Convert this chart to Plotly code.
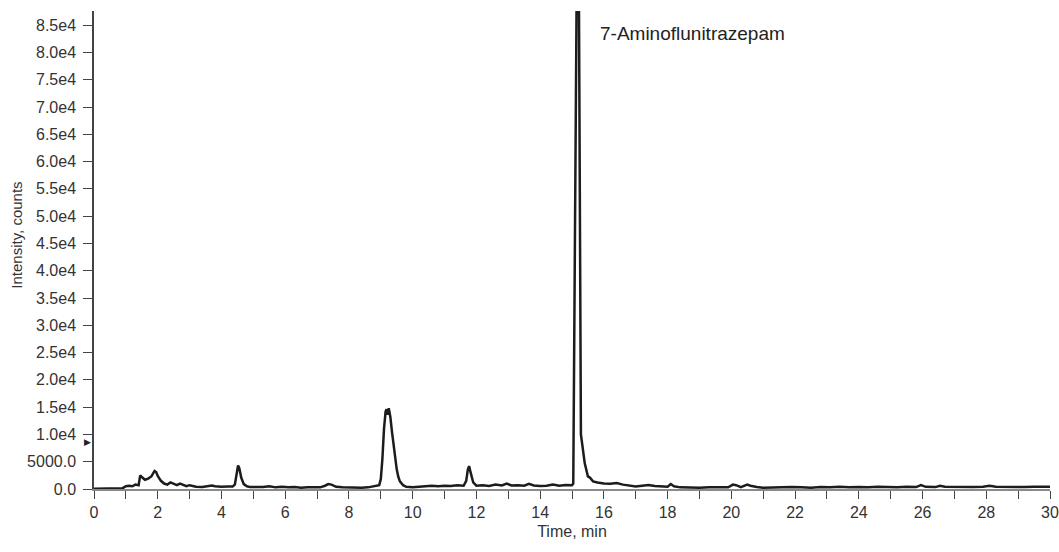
import plotly.graph_objects as go

# Chromatogram data (time in min, intensity in counts)
time_min = [
    0.0, 0.3, 0.6, 0.9, 1.0, 1.1, 1.2, 1.3, 1.4, 1.45, 1.5, 1.6, 1.7, 1.8, 1.9, 1.95,
    2.0, 2.1, 2.2, 2.3, 2.4, 2.5, 2.6, 2.7, 2.8, 2.9, 3.0, 3.2, 3.4, 3.6, 3.7, 3.8,
    4.0, 4.2, 4.35, 4.42, 4.47, 4.52, 4.56, 4.62, 4.7, 4.8, 4.9, 5.1, 5.3, 5.5, 5.7,
    5.9, 6.1, 6.3, 6.5, 6.7, 6.9, 7.1, 7.25, 7.35, 7.45, 7.6, 7.8, 8.0, 8.2, 8.4, 8.6,
    8.8, 8.95, 9.0, 9.05, 9.1, 9.15, 9.18, 9.22, 9.25, 9.3, 9.35, 9.4, 9.45, 9.5, 9.55,
    9.6, 9.7, 9.8, 10.0, 10.2, 10.4, 10.6, 10.8, 11.0, 11.2, 11.4, 11.6, 11.68, 11.73,
    11.77, 11.82, 11.9, 12.0, 12.2, 12.4, 12.6, 12.8, 12.95, 13.1, 13.3, 13.5, 13.65,
    13.8, 14.0, 14.2, 14.4, 14.6, 14.8, 15.0, 15.04, 15.09, 15.18, 15.22, 15.25, 15.28,
    15.4, 15.5, 15.56, 15.66, 15.8, 15.9, 16.0, 16.2, 16.4, 16.6, 16.8, 17.0, 17.2,
    17.4, 17.6, 17.8, 18.0, 18.1, 18.2, 18.4, 18.6, 18.8, 19.0, 19.3, 19.6, 19.9,
    20.05, 20.15, 20.3, 20.5, 20.6, 20.8, 21.0, 21.3, 21.6, 21.9, 22.2, 22.5, 22.8,
    23.1, 23.4, 23.7, 24.0, 24.3, 24.6, 24.9, 25.2, 25.5, 25.8, 25.95, 26.1, 26.4,
    26.55, 26.7, 27.0, 27.3, 27.6, 27.9, 28.1, 28.3, 28.6, 28.9, 29.2, 29.5, 29.8, 30.0,
]
intensity = [
    50, 60, 80, 150, 500, 600, 500, 800, 700, 2500, 2200, 1700, 1900, 2300, 3300, 3100,
    2400, 1500, 1000, 800, 1200, 900, 700, 1000, 800, 500, 700, 400, 350, 500, 650, 500,
    400, 450, 450, 800, 2600, 4300, 3800, 2100, 900, 500, 350, 300, 350, 500, 300,
    400, 300, 350, 250, 300, 250, 300, 600, 900, 800, 400, 300, 250, 300, 250, 300,
    450, 700, 1800, 5500, 11000, 14200, 14600, 13600, 14800, 13200, 10500, 7800, 5600, 3600, 2200,
    1400, 700, 400, 300, 400, 500, 600, 500, 600, 550, 700, 600, 1500, 3500,
    4200, 3000, 1200, 600, 700, 550, 800, 650, 1000, 650, 700, 600, 950,
    650, 550, 600, 800, 600, 750, 700, 1000, 44000, 120000, 87000, 48000, 10000,
    4700, 2300, 2100, 1400, 1200, 1100, 1000, 950, 1100, 800, 600, 450, 600,
    750, 550, 500, 400, 900, 500, 300, 250, 300, 250, 300, 250, 300,
    800, 700, 350, 800, 600, 350, 250, 300, 250, 350, 300, 250, 350,
    300, 400, 300, 350, 300, 400, 350, 300, 400, 350, 700, 400, 350,
    600, 400, 350, 400, 350, 400, 600, 400, 350, 400, 350, 400, 350, 400,
]

y_tickvals = [0, 5000, 10000, 15000, 20000, 25000, 30000, 35000, 40000, 45000,
              50000, 55000, 60000, 65000, 70000, 75000, 80000, 85000]
y_ticktext = ["0.0", "5000.0", "1.0e4", "1.5e4", "2.0e4", "2.5e4", "3.0e4", "3.5e4",
              "4.0e4", "4.5e4", "5.0e4", "5.5e4", "6.0e4", "6.5e4", "7.0e4", "7.5e4",
              "8.0e4", "8.5e4"]
x_tickvals = [0, 2, 4, 6, 8, 10, 12, 14, 16, 18, 20, 22, 24, 26, 28, 30]

peak_label = "7-Aminoflunitrazepam"
peak_label_pos = (15.83, 83400)
marker_level = 8600
y_title = "Intensity, counts"
x_title = "Time, min"

FONT = "Liberation Sans, Arial, sans-serif"

fig = go.Figure()
fig.add_trace(go.Scatter(
    x=time_min, y=intensity, mode="lines",
    line=dict(color="#1c1c1c", width=2.5),
    showlegend=False, hoverinfo="skip",
))

fig.add_annotation(
    x=peak_label_pos[0], y=peak_label_pos[1], xref="x", yref="y",
    text=peak_label, showarrow=False, xanchor="left", yanchor="middle",
    font=dict(family=FONT, size=19, color="#222222"),
)
fig.add_annotation(
    x=0, y=marker_level, xref="x", yref="y", text="▶", showarrow=False,
    xanchor="right", yanchor="middle", xshift=-1,
    font=dict(family="DejaVu Sans", size=9, color="#222222"),
)
fig.add_annotation(
    x=-0.0805, y=0.53, xref="paper", yref="paper", text=y_title, showarrow=False,
    textangle=-90, xanchor="center", yanchor="middle",
    font=dict(family=FONT, size=15, color="#333333"),
)

fig.update_layout(
    width=1059, height=552,
    margin=dict(l=94, r=9, t=11, b=63, autoexpand=False),
    paper_bgcolor="white", plot_bgcolor="white",
    font=dict(family=FONT, size=16, color="#333333"),
)
fig.update_xaxes(
    range=[0, 30], tickvals=x_tickvals, ticktext=[str(v) for v in x_tickvals],
    automargin=False, ticklabeloverflow="allow",
    showgrid=False, zeroline=False,
    showline=True, linecolor="#8a8a8a", linewidth=1.5,
    ticks="outside", ticklen=8, tickwidth=1.2, tickcolor="#444444",
    minor=dict(dtick=1, tick0=0, ticks="outside", ticklen=8, tickwidth=1.2,
               tickcolor="#444444", showgrid=False),
    tickfont=dict(family=FONT, size=16, color="#333333"),
    title=dict(text=x_title, font=dict(family=FONT, size=16, color="#333333"), standoff=6),
)
fig.update_yaxes(
    range=[0, 87600], tickvals=y_tickvals, ticktext=y_ticktext,
    automargin=False,
    showgrid=False, zeroline=False,
    showline=True, linecolor="#444444", linewidth=1.5,
    ticks="outside", ticklen=9, tickwidth=1.2, tickcolor="#444444",
    ticklabelstandoff=4,
    tickfont=dict(family=FONT, size=16, color="#333333"),
)

fig.write_html("out.html")
